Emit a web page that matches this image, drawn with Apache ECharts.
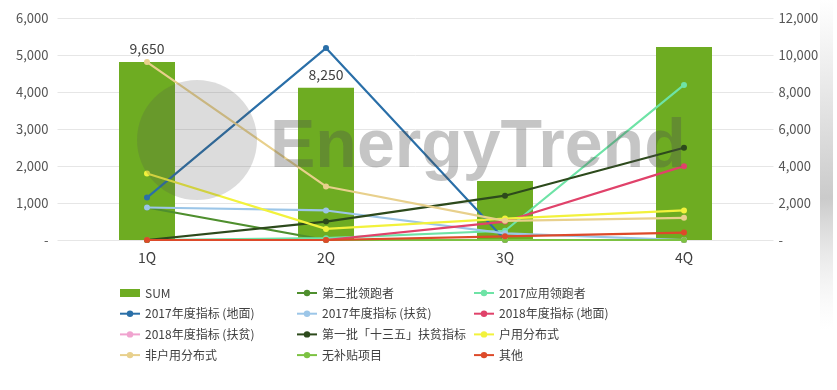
<!DOCTYPE html>
<html>
<head>
<meta charset="utf-8">
<script src="https://cdn.jsdelivr.net/npm/echarts@6/dist/echarts.min.js"></script>
<style>html,body{margin:0;padding:0;background:#fff;}#c{width:837px;height:390px;}</style>
</head>
<body>
<div id="c"></div>
<script>
var categories = ['1Q', '2Q', '3Q', '4Q'];
var leftTicks = [0, 1000, 2000, 3000, 4000, 5000, 6000];
var rightTicks = [0, 2000, 4000, 6000, 8000, 10000, 12000];
var sumValues = [9650, 8250, 3200, 10450];
var sumLabelShown = [true, true, false, false];

var s_second = [880, 0, 0, 0];              // 第二批领跑者
var s_app2017 = [0, 50, 250, 4200];         // 2017应用领跑者
var s_2017ground = [1150, 5200, 0, 0];      // 2017年度指标 (地面)
var s_2017poverty = [880, 800, 180, 0];     // 2017年度指标 (扶贫)
var s_2018ground = [0, 0, 500, 2000];       // 2018年度指标 (地面)
var s_2018poverty = [0, 0, 0, 0];           // 2018年度指标 (扶贫)
var s_first135 = [0, 500, 1200, 2500];      // 第一批「十三五」扶贫指标
var s_household = [1800, 300, 580, 800];    // 户用分布式
var s_nonhousehold = [4820, 1450, 520, 600];// 非户用分布式
var s_nosubsidy = [0, 0, 0, 0];             // 无补贴项目
var s_other = [0, 0, 100, 200];             // 其他

var lineDefs = [
  {name: '第二批领跑者', data: s_second, color: '#4f8f2e'},
  {name: '2017应用领跑者', data: s_app2017, color: '#6ee3a6'},
  {name: '2017年度指标 (地面)', data: s_2017ground, color: '#2a6fa8'},
  {name: '2017年度指标 (扶贫)', data: s_2017poverty, color: '#9cc6e8'},
  {name: '2018年度指标 (地面)', data: s_2018ground, color: '#e0426a'},
  {name: '2018年度指标 (扶贫)', data: s_2018poverty, color: '#f0a3cf'},
  {name: '第一批「十三五」扶贫指标', data: s_first135, color: '#2d4a1c'},
  {name: '户用分布式', data: s_household, color: '#f2f23c'},
  {name: '非户用分布式', data: s_nonhousehold, color: '#e8d08c'},
  {name: '无补贴项目', data: s_nosubsidy, color: '#7cc242'},
  {name: '其他', data: s_other, color: '#dd4a2a'}
];

function fmt(v) { return v === 0 ? '-' : v.toLocaleString('en-US'); }

var FONT = '"Noto Sans CJK SC", "Noto Sans", sans-serif';

var series = [{
  name: 'SUM', type: 'bar', yAxisIndex: 1, barWidth: 56,
  itemStyle: {color: '#6eac22'},
  label: {show: false, position: 'top', distance: 6, color: '#404040', fontSize: 14, fontFamily: FONT,
    formatter: function (p) { return fmt(p.value); }},
  data: sumValues.map(function (v, i) { return sumLabelShown[i] ? {value: v, label: {show: true}} : v; }),
  z: 1
}];
lineDefs.forEach(function (d, i) {
  series.push({
    name: d.name, type: 'line', yAxisIndex: 0, data: d.data,
    symbol: 'circle', symbolSize: 6, showSymbol: true,
    lineStyle: {width: 2.2, color: d.color}, itemStyle: {color: d.color},
    z: 2 + i, animation: false
  });
});

var legendCommon = {
  orient: 'vertical', top: 282, itemWidth: 20, itemHeight: 8, itemGap: 8.7,
  textStyle: {color: '#404040', fontSize: 12, fontFamily: FONT}, selectedMode: false
};
function legendAt(left, names) {
  var o = Object.assign({}, legendCommon);
  o.left = left;
  o.data = names.map(function (n) {
    return n === 'SUM' ? {name: n, icon: 'rect', itemStyle: {color: '#6eac22'}} : n;
  });
  return o;
}

var chart = echarts.init(document.getElementById('c'), null, {renderer: 'canvas'});
chart.setOption({
  animation: false,
  backgroundColor: '#ffffff',
  grid: {left: 57.5, right: 63.5, top: 18.5, bottom: 150, containLabel: false},
  legend: [
    legendAt(114, ['SUM', '2017年度指标 (地面)', '2018年度指标 (扶贫)', '非户用分布式']),
    legendAt(291, ['第二批领跑者', '2017年度指标 (扶贫)', '第一批「十三五」扶贫指标', '无补贴项目']),
    legendAt(468, ['2017应用领跑者', '2018年度指标 (地面)', '户用分布式', '其他'])
  ],
  xAxis: {
    type: 'category', data: categories,
    axisLine: {show: false}, axisTick: {show: false},
    axisLabel: {color: '#404040', fontSize: 14, fontFamily: FONT, margin: 11}
  },
  yAxis: [{
    type: 'value', min: leftTicks[0], max: leftTicks[leftTicks.length - 1], interval: leftTicks[1] - leftTicks[0],
    axisLine: {show: false}, axisTick: {show: false},
    splitLine: {lineStyle: {color: '#e6e6e6', width: 1}},
    axisLabel: {color: '#555', fontSize: 13, fontFamily: FONT, margin: 9, formatter: fmt}
  }, {
    type: 'value', min: rightTicks[0], max: rightTicks[rightTicks.length - 1], interval: rightTicks[1] - rightTicks[0],
    axisLine: {show: false}, axisTick: {show: false}, splitLine: {show: false},
    axisLabel: {color: '#555', fontSize: 13, fontFamily: FONT, margin: 5, formatter: fmt}
  }],
  series: series,
  graphic: [
    {type: 'circle', shape: {cx: 197, cy: 140, r: 60}, style: {fill: 'rgba(80,80,80,0.2)'}, z: 100, silent: true},
    {type: 'text', x: 270, y: 148, style: {text: 'EnergyTrend', font: 'bold 68px "Liberation Sans", Arial, sans-serif',
      fill: 'rgba(80,80,80,0.33)', verticalAlign: 'middle'}, z: 100, silent: true},
    {type: 'rect', shape: {x: 820, y: 0, width: 13, height: 330},
      style: {fill: new echarts.graphic.LinearGradient(0, 0, 1, 1, [
        {offset: 0, color: 'rgba(190,190,190,0)'}, {offset: 0.6, color: 'rgba(185,185,185,0.75)'},
        {offset: 1, color: 'rgba(230,230,230,0)'}])}, z: 100, silent: true}
  ]
});
</script>
</body>
</html>
